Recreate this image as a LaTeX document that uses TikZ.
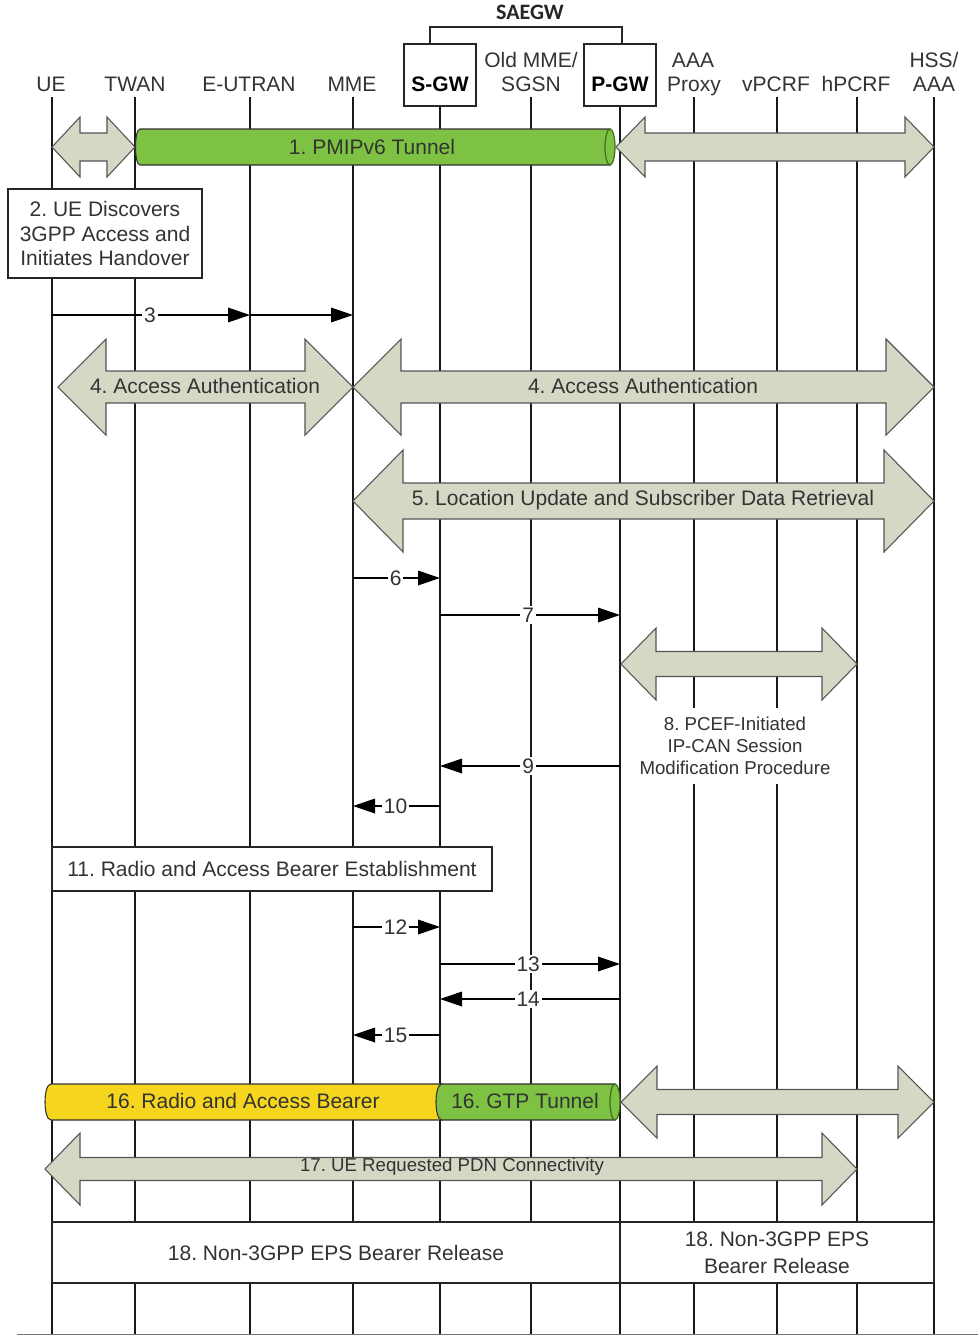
\documentclass[tikz,border=0pt]{standalone}
\usepackage{fontspec}
\setmainfont{Liberation Sans}
\newfontfamily\calibfont{Carlito}
\usetikzlibrary{arrows.meta}
\frenchspacing
\definecolor{txt}{HTML}{333333}
\definecolor{afill}{HTML}{D6D8C6}
\definecolor{aline}{HTML}{555555}
\definecolor{tgreen}{HTML}{7DC242}
\definecolor{tgreenD}{HTML}{3E6E1E}
\definecolor{tyellow}{HTML}{F5D51E}
% x1, x2, y centre, shaft half height, head half height, head length
\newcommand{\dblarr}[6]{%
  \draw[bigarrow] (#1,#3) -- (#1+#6,#3-#5) -- (#1+#6,#3-#4) -- (#2-#6,#3-#4) -- (#2-#6,#3-#5) -- (#2,#3) -- (#2-#6,#3+#5) -- (#2-#6,#3+#4) -- (#1+#6,#3+#4) -- (#1+#6,#3+#5) -- cycle;}
\begin{document}
\frenchspacing
\begin{tikzpicture}[x=0.75pt,y=-0.75pt, font=\fontsize{15.75}{19}\selectfont\frenchspacing, text=txt,
 lifeline/.style={line width=0.9pt, draw=black!90},
 hdr/.style={anchor=base, inner sep=0pt},
 gwbox/.style={draw=black!85, line width=1pt, minimum width=54pt, minimum height=46.5pt, inner sep=0pt},
 bigarrow/.style={fill=afill, draw=aline, line width=0.8pt, line join=miter},
 stepbox/.style={draw=black!85, fill=white, line width=1pt, align=center, inner sep=0pt},
 msg/.style={line width=0.9pt, draw=black, -{Triangle[length=16.5pt,width=11pt]}},
 msglabel/.style={fill=white, inner xsep=1.5pt, inner ysep=1pt},
 tubeline/.style={draw=black!80, line width=0.8pt},
 capline/.style={draw=tgreenD, line width=0.9pt, fill=tgreen}]
\useasboundingbox (0,0) rectangle (978,1336);
\fill[white] (0,0) rectangle (978,1336);

% ---------- header ----------
\node[hdr, font=\calibfont\bfseries\fontsize{16.5}{19}\selectfont, text=black!85] (saegw) at (530,19) {SAEGW};
\coordinate (brA) at (430,44);
\coordinate (brB) at (430,27);
\coordinate (brC) at (622,27);
\coordinate (brD) at (622,44);
\draw[line width=0.9pt, black!85] (brA) -- (brB) -- (brC) -- (brD);

\node[hdr] (ue) at (51,91) {UE};
\node[hdr] (twan) at (135,91) {TWAN};
\node[hdr] (eutran) at (249,91) {E-UTRAN};
\node[hdr] (mme) at (352,91) {MME};
\node[hdr] (old1) at (531,67) {Old MME/};
\node[hdr] (old2) at (531,91) {SGSN};
\node[hdr] (aaa1) at (693,67) {AAA};
\node[hdr] (aaa2) at (694,91) {Proxy};
\node[hdr] (vpcrf) at (776,91) {vPCRF};
\node[hdr] (hpcrf) at (856,91) {hPCRF};
\node[hdr] (hss1) at (934,67) {HSS/};
\node[hdr] (hss2) at (934,91) {AAA};

% ---------- lifelines ----------
\foreach \n/\x/\t in {ll-ue/52/97, ll-twan/135/97, ll-eutran/250/97, ll-mme/353/97, ll-sgw/440/105, ll-old/531/97, ll-pgw/620/105, ll-aaa/694/97, ll-vpcrf/777/97, ll-hpcrf/857/97, ll-hss/934/97}{
  \coordinate (\n-top) at (\x,\t);
  \coordinate (\n-bot) at (\x,1334);
  \draw[lifeline] (\n-top) -- (\n-bot);
}
\node[gwbox] (sgwbox) at (440,75) {};
\node[gwbox] (pgwbox) at (620,75) {};
\node[hdr, font=\bfseries\fontsize{15.75}{19}\selectfont, text=black] (sgw) at (440,91) {S-GW};
\node[hdr, font=\bfseries\fontsize{15.75}{19}\selectfont, text=black] (pgw) at (620,91) {P-GW};
\coordinate (baseA) at (17,1334.5);
\coordinate (baseB) at (978,1334.5);
\draw[line width=0.8pt, black!55] (baseA) -- (baseB);

% ---------- 1. PMIPv6 tunnel ----------
\dblarr{52}{135}{147}{14}{30}{28}
\path[fill=tgreen, tubeline] (610,129) -- (140,129) .. controls (134,129) and (134,165) .. (140,165) -- (610,165) -- cycle;
\draw[capline] (610,147) ellipse [x radius=5, y radius=18];
\node (t1) at (372,147) {1. PMIPv6 Tunnel};
\dblarr{616}{934}{147}{14}{30}{29}

% ---------- 2 ----------
\node[stepbox, minimum width=145.5pt, minimum height=66.75pt] (s2) at (105,233.5)
  {2. UE Discovers\\[-0.5pt]3GPP Access and\\[-0.5pt]Initiates Handover};

% ---------- 3 ----------
\coordinate (m3a) at (52,315);
\coordinate (m3b) at (250,315);
\coordinate (m3c) at (353,315);
\draw[msg] (m3a) -- node[msglabel, pos=0.495] (l3) {3} (m3b);
\draw[msg] (m3b) -- (m3c);

% ---------- 4 ----------
\dblarr{58}{353}{387}{16}{48}{48}
\node (t4a) at (205,386) {4. Access Authentication};
\dblarr{353}{934}{387}{16}{48}{48}
\node (t4b) at (643,386) {4. Access Authentication};

% ---------- 5 ----------
\dblarr{353}{934}{501}{18}{51}{50}
\node (t5) at (643,500) {5. Location Update and Subscriber Data Retrieval};

% ---------- 6,7 ----------
\coordinate (m6a) at (353,578); \coordinate (m6b) at (440,578);
\draw[msg] (m6a) -- node[msglabel, pos=0.49] (l6) {6} (m6b);
\coordinate (m7a) at (440,615); \coordinate (m7b) at (620,615);
\draw[msg] (m7a) -- node[msglabel, pos=0.49] (l7) {7} (m7b);

% ---------- 8 ----------
\dblarr{621}{857}{664}{12.5}{36}{35}
\node[fill=white, align=center, inner xsep=3pt, inner ysep=7pt, font=\fontsize{14}{16.5}\selectfont] (t8) at (735,746)
  {8. PCEF-Initiated\\IP-CAN Session\\Modification Procedure};

% ---------- 9,10 ----------
\coordinate (m9a) at (620,766); \coordinate (m9b) at (440,766);
\draw[msg] (m9a) -- node[msglabel, pos=0.51] (l9) {9} (m9b);
\coordinate (m10a) at (440,806); \coordinate (m10b) at (353,806);
\draw[msg] (m10a) -- node[msglabel, pos=0.51] (l10) {10} (m10b);

% ---------- 11 ----------
\node[stepbox, minimum width=330pt, minimum height=33pt] (s11) at (272,869) {11. Radio and Access Bearer Establishment};

% ---------- 12-15 ----------
\coordinate (m12a) at (353,927); \coordinate (m12b) at (440,927);
\draw[msg] (m12a) -- node[msglabel, pos=0.49] (l12) {12} (m12b);
\coordinate (m13a) at (440,964); \coordinate (m13b) at (620,964);
\draw[msg] (m13a) -- node[msglabel, pos=0.49] (l13) {13} (m13b);
\coordinate (m14a) at (620,999); \coordinate (m14b) at (440,999);
\draw[msg] (m14a) -- node[msglabel, pos=0.51] (l14) {14} (m14b);
\coordinate (m15a) at (440,1035); \coordinate (m15b) at (353,1035);
\draw[msg] (m15a) -- node[msglabel, pos=0.51] (l15) {15} (m15b);

% ---------- 16 ----------
\path[fill=tyellow, tubeline] (442,1084) -- (51,1084) .. controls (43,1084) and (43,1120) .. (51,1120) -- (442,1120) -- cycle;
\path[fill=tgreen, tubeline] (615,1084) -- (442,1084) .. controls (434,1084) and (434,1120) .. (442,1120) -- (615,1120) -- cycle;
\draw[capline] (615,1102) ellipse [x radius=5, y radius=18];
\node (t16a) at (243,1101) {16. Radio and Access Bearer};
\node (t16b) at (525,1101) {16. GTP Tunnel};
\dblarr{621}{934}{1102}{12.5}{36}{36}

% ---------- 17 ----------
\dblarr{45}{857}{1169}{11.5}{36}{35}
\node[font=\fontsize{14}{16}\selectfont] (t17) at (452,1167) {17. UE Requested PDN Connectivity};

% ---------- 18 ----------
\node[stepbox, minimum width=426pt, minimum height=45.75pt] (s18a) at (336,1252.5) {18. Non-3GPP EPS Bearer Release};
\node[stepbox, minimum width=235.5pt, minimum height=45.75pt] (s18b) at (777,1252.5) {18. Non-3GPP EPS\\[1pt]Bearer Release};
\end{tikzpicture}
\end{document}
